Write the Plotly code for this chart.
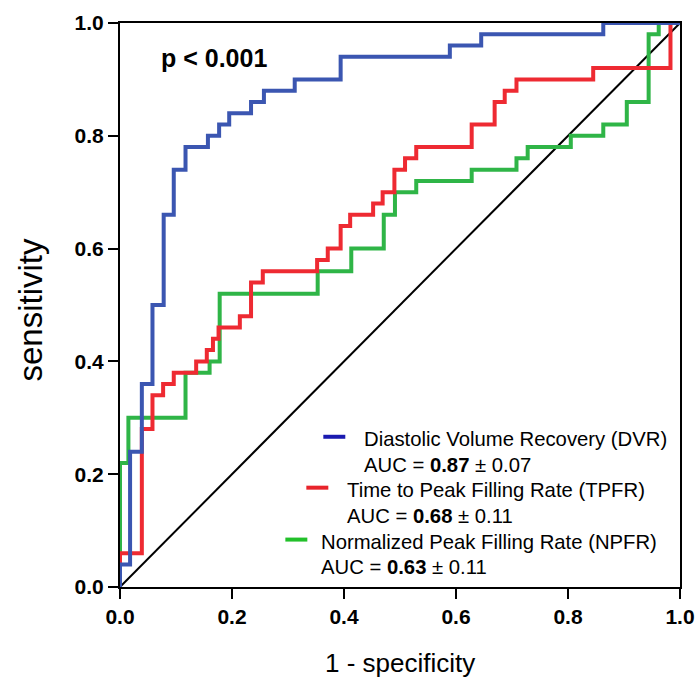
import plotly.graph_objects as go

# ROC step points: each pair is (1 - specificity, sensitivity) at the top of a vertical rise
dvr_fpr = [0, 0, 0.018, 0.039, 0.058, 0.078, 0.096, 0.117, 0.157, 0.177, 0.195, 0.234,
           0.257, 0.312, 0.394, 0.589, 0.645, 0.863, 1.0]
dvr_tpr = [0, 0.04, 0.24, 0.36, 0.50, 0.66, 0.74, 0.78, 0.80, 0.82, 0.84, 0.86,
           0.88, 0.90, 0.94, 0.96, 0.98, 1.0, 1.0]

tpfr_fpr = [0, 0, 0.039, 0.058, 0.077, 0.096, 0.136, 0.155, 0.166, 0.176, 0.214, 0.234,
            0.255, 0.352, 0.371, 0.394, 0.411, 0.452, 0.469, 0.490, 0.509, 0.529,
            0.628, 0.669, 0.687, 0.708, 0.845, 0.983, 1.0]
tpfr_tpr = [0, 0.06, 0.28, 0.34, 0.36, 0.38, 0.40, 0.42, 0.44, 0.46, 0.48, 0.54,
            0.56, 0.58, 0.60, 0.64, 0.66, 0.68, 0.70, 0.74, 0.76, 0.78,
            0.82, 0.86, 0.88, 0.90, 0.92, 1.0, 1.0]

npfr_fpr = [0, 0, 0.015, 0.117, 0.160, 0.178, 0.353, 0.413, 0.471, 0.491, 0.529, 0.628,
            0.708, 0.728, 0.805, 0.863, 0.905, 0.944, 0.962, 1.0]
npfr_tpr = [0, 0.22, 0.30, 0.38, 0.40, 0.52, 0.56, 0.60, 0.66, 0.70, 0.72, 0.74,
            0.76, 0.78, 0.80, 0.82, 0.86, 0.98, 1.0, 1.0]

series_names = ["Diastolic Volume Recovery (DVR)",
                "Time to Peak Filling Rate (TPFR)",
                "Normalized Peak Filling Rate (NPFR)"]
auc_values = ["0.87", "0.68", "0.63"]
auc_errors = ["0.07", "0.11", "0.11"]
p_text = "p < 0.001"
x_title = "1 - specificity"
y_title = "sensitivity"

tick_vals = [0, 0.2, 0.4, 0.6, 0.8, 1.0]
tick_text = ["0.0", "0.2", "0.4", "0.6", "0.8", "1.0"]

curve_colors = ["#3b56b1", "#ee2a32", "#2fb547"]
key_colors = ["#1a1ab0", "#e8242b", "#22c02a"]

FONT = "Arial, Liberation Sans, sans-serif"

fig = go.Figure()

# chance line
fig.add_trace(go.Scatter(x=[0, 1], y=[0, 1], mode="lines",
                         line=dict(color="black", width=2), showlegend=False,
                         hoverinfo="skip"))

for fx, ty, col, name in [(npfr_fpr, npfr_tpr, curve_colors[2], series_names[2]),
                          (tpfr_fpr, tpfr_tpr, curve_colors[1], series_names[1]),
                          (dvr_fpr, dvr_tpr, curve_colors[0], series_names[0])]:
    fig.add_trace(go.Scatter(x=fx, y=ty, mode="lines", name=name,
                             line=dict(color=col, width=4, shape="hv"),
                             showlegend=False, cliponaxis=False))

# plot area in pixels (for placing the hand-built legend and titles)
L, R, T, B = 119.5, 680.0, 22.5, 587.5
W, H = R - L, B - T


def px(x):
    return (x - L) / W


def py(y):
    return (B - y) / H


# legend: key line start/end, text left, first-line y, second-line y
legend_rows = [
    (323, 345, 362, 439, 465),
    (306, 328, 345, 490, 516),
    (285, 307, 319, 542, 567),
]

shapes = []
annotations = []
for i, (k0, k1, tx, y1, y2) in enumerate(legend_rows):
    shapes.append(dict(type="line", xref="paper", yref="paper",
                       x0=px(k0), x1=px(k1), y0=py(y1 - 2), y1=py(y1 - 2),
                       line=dict(color=key_colors[i], width=4)))
    annotations.append(dict(xref="paper", yref="paper", x=px(tx), y=py(y1),
                            xanchor="left", yanchor="middle", showarrow=False,
                            text=series_names[i],
                            font=dict(family=FONT, size=20.3, color="black")))
    annotations.append(dict(xref="paper", yref="paper", x=px(tx), y=py(y2),
                            xanchor="left", yanchor="middle", showarrow=False,
                            text=f"AUC = <b>{auc_values[i]}</b> \u00b1 {auc_errors[i]}",
                            font=dict(family=FONT, size=20.3, color="black")))

annotations.append(dict(xref="paper", yref="paper", x=px(159), y=py(58),
                        xanchor="left", yanchor="middle", showarrow=False,
                        text=f"<b>{p_text}</b>",
                        font=dict(family=FONT, size=25, color="black")))

# axis titles
annotations.append(dict(xref="paper", yref="paper", x=0.5, y=py(664),
                        xanchor="center", yanchor="middle", showarrow=False,
                        text=x_title,
                        font=dict(family=FONT, size=26, color="black")))
annotations.append(dict(xref="paper", yref="paper", x=px(30), y=py(310),
                        xanchor="center", yanchor="middle", showarrow=False,
                        textangle=-90, text=y_title,
                        font=dict(family=FONT, size=33, color="black")))

axis_common = dict(range=[0, 1], tickvals=tick_vals, ticktext=tick_text,
                   showline=True, linecolor="black", linewidth=2, mirror=True,
                   ticks="outside", ticklen=10, tickwidth=2, tickcolor="black",
                   showgrid=False, zeroline=False, automargin=False,
                   tickfont=dict(family=FONT, size=21, color="black", weight="bold"))

fig.update_layout(
    width=698, height=686,
    margin=dict(l=L, r=698 - R, t=T, b=686 - B, autoexpand=False),
    paper_bgcolor="white", plot_bgcolor="white",
    xaxis=axis_common,
    yaxis=axis_common,
    shapes=shapes,
    annotations=annotations,
    showlegend=False,
)

fig.write_html("out.html", config={"displayModeBar": False})
